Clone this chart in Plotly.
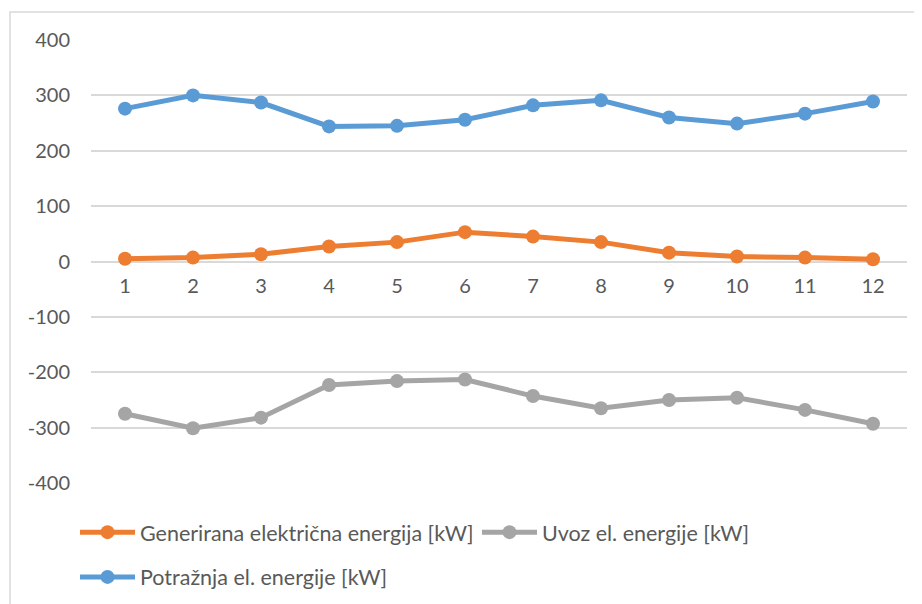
import plotly.graph_objects as go

months = [1, 2, 3, 4, 5, 6, 7, 8, 9, 10, 11, 12]
generirana = [5, 7, 13, 27, 35, 53, 45, 35, 16, 9, 7, 4]
uvoz = [-275, -301, -282, -223, -216, -213, -243, -265, -250, -246, -268, -293]
potraznja = [276, 300, 287, 244, 245, 256, 282, 291, 260, 249, 267, 289]
y_ticks = [-400, -300, -200, -100, 0, 100, 200, 300, 400]
y_tick_text = ["-400", "-300", "-200", "-100", "0", "100", "200", "300", "400"]

FONT = "Lato"
GREY_TXT = "#595959"
fig = go.Figure()
fig.add_trace(go.Scatter(x=months, y=generirana, mode="lines+markers",
                         name="Generirana električna energija [kW]",
                         line=dict(color="#ED7D31", width=5),
                         marker=dict(size=14, color="#ED7D31"), legend="legend"))
fig.add_trace(go.Scatter(x=months, y=uvoz, mode="lines+markers",
                         name="Uvoz el. energije [kW]",
                         line=dict(color="#A5A5A5", width=5),
                         marker=dict(size=14, color="#A5A5A5"), legend="legend"))
fig.add_trace(go.Scatter(x=months, y=potraznja, mode="lines+markers",
                         name="Potražnja el. energije [kW]",
                         line=dict(color="#5B9BD5", width=5),
                         marker=dict(size=14, color="#5B9BD5"), legend="legend2"))

fig.update_layout(
    width=922, height=604,
    margin=dict(l=83, r=23, t=32, b=129, autoexpand=False),
    paper_bgcolor="white", plot_bgcolor="white",
    font=dict(family=FONT, size=20, color=GREY_TXT),
    xaxis=dict(range=[0.5, 12.5], tickvals=months, ticktext=[str(m) for m in months],
               anchor="free", position=0.5, showgrid=False, zeroline=False,
               showline=False, ticks="", ticklabelstandoff=10,
               tickfont=dict(size=20, color=GREY_TXT)),
    yaxis=dict(range=[-400, 400], tickvals=y_ticks, ticktext=y_tick_text, showgrid=True,
               gridcolor="#D9D9D9", gridwidth=2, zeroline=False, showline=False,
               ticks="", ticklabelstandoff=20,
               tickfont=dict(size=20, color=GREY_TXT)),
    legend=dict(orientation="h", x=-0.0196, y=-0.111, xanchor="left", yanchor="middle",
                itemwidth=55, entrywidth=332,
                font=dict(size=21.5, color=GREY_TXT), bgcolor="rgba(0,0,0,0)"),
    legend2=dict(orientation="h", x=-0.0196, y=-0.212, xanchor="left", yanchor="middle",
                 itemwidth=55, font=dict(size=21.5, color=GREY_TXT), bgcolor="rgba(0,0,0,0)"),
    shapes=[dict(type="rect", xref="paper", yref="paper",
                 x0=-0.0993, x1=1.04, y0=-0.32, y1=1.063,
                 line=dict(color="#D9D9D9", width=1.5), fillcolor="rgba(0,0,0,0)",
                 layer="below")],
)

fig.write_html("out.html")
